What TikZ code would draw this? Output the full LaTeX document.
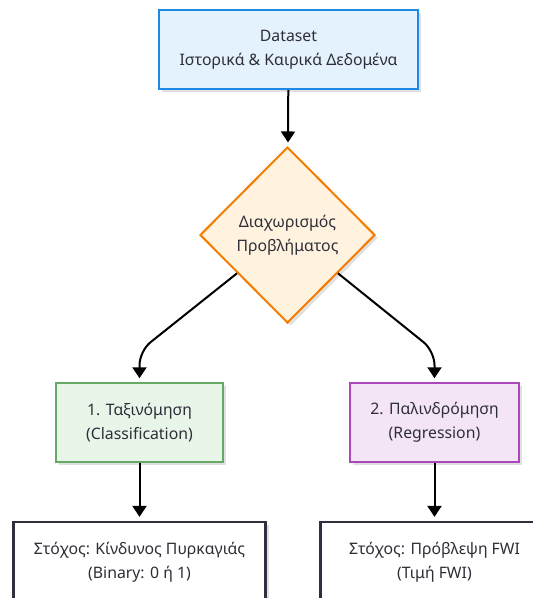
\documentclass[tikz,border=0pt]{standalone}
\usepackage{fontspec}
\setmainfont{Noto Sans}
\usetikzlibrary{shapes.geometric,arrows.meta,shadows,calc}

\definecolor{txt}{HTML}{2E2E38}
\definecolor{blueline}{HTML}{1E88E5}
\definecolor{bluefill}{HTML}{E3F2FD}
\definecolor{orangeline}{HTML}{F57C00}
\definecolor{orangefill}{HTML}{FFF3E0}
\definecolor{greenline}{HTML}{66A866}
\definecolor{greenfill}{HTML}{E8F5E9}
\definecolor{purpleline}{HTML}{AB47BC}
\definecolor{purplefill}{HTML}{F3E5F5}
\definecolor{darkline}{HTML}{2F2F3F}

\tikzset{
  label text/.style={text=txt, font=\fontsize{15.8}{24}\selectfont, align=center},
  softshadow/.style={drop shadow={shadow xshift=3pt, shadow yshift=-3pt, opacity=0.12, fill=black}},
  stagebox/.style={rectangle, label text, inner sep=0pt, softshadow},
  decision/.style={diamond, aspect=1, label text, inner sep=0pt, softshadow,
    draw=orangeline, fill=orangefill, line width=2pt},
  conn/.style={draw=black, line width=2pt, shorten >=4pt,
    -{Triangle[width=14pt,length=11pt]}},
}

\begin{document}
\begin{tikzpicture}[x=1pt,y=-1pt]
  \useasboundingbox (0,0) rectangle (533,598);

  % input data
  \node[stagebox, draw=blueline, fill=bluefill, line width=2.2pt,
        minimum width=259pt, minimum height=79pt] (data) at (288.5,49.5)
        {Dataset\\Ιστορικά \& Καιρικά Δεδομένα};

  % split of the problem
  \node[decision, minimum width=175pt, minimum height=176pt] (split) at (287.5,235)
        {Διαχωρισμός\\Προβλήματος};

  % the two tasks
  \node[stagebox, draw=greenline, fill=greenfill, line width=1.5pt,
        minimum width=167pt, minimum height=79pt] (cls) at (139.5,422.5)
        {1. Ταξινόμηση\\(Classification)};
  \node[stagebox, draw=purpleline, fill=purplefill, line width=1.5pt,
        minimum width=169pt, minimum height=79pt] (reg) at (434.5,422.5)
        {2. Παλινδρόμηση\\(Regression)};

  % targets
  \node[stagebox, draw=darkline, fill=white, line width=2.2pt,
        minimum width=252pt, minimum height=80pt] (tcls) at (139.5,562)
        {Στόχος: Κίνδυνος Πυρκαγιάς\\(Binary: 0 ή 1)};
  \node[stagebox, draw=darkline, fill=white, line width=2.2pt,
        minimum width=228pt, minimum height=80pt] (treg) at (434.5,562)
        {Στόχος: Πρόβλεψη FWI\\(Τιμή FWI)};

  % connectors
  \draw[conn] (data) -- (split);

  \coordinate (ls) at ($(split.west)!0.43!(split.south)$);
  \coordinate (lc) at (139.5,351);
  \draw[conn, rounded corners=14pt] (ls) -- (lc) -- (cls.north);

  \coordinate (rs) at ($(split.east)!0.43!(split.south)$);
  \coordinate (rc) at (434.5,351);
  \draw[conn, rounded corners=14pt] (rs) -- (rc) -- (reg.north);

  \draw[conn] (cls) -- (tcls);
  \draw[conn] (reg) -- (treg);
\end{tikzpicture}
\end{document}
